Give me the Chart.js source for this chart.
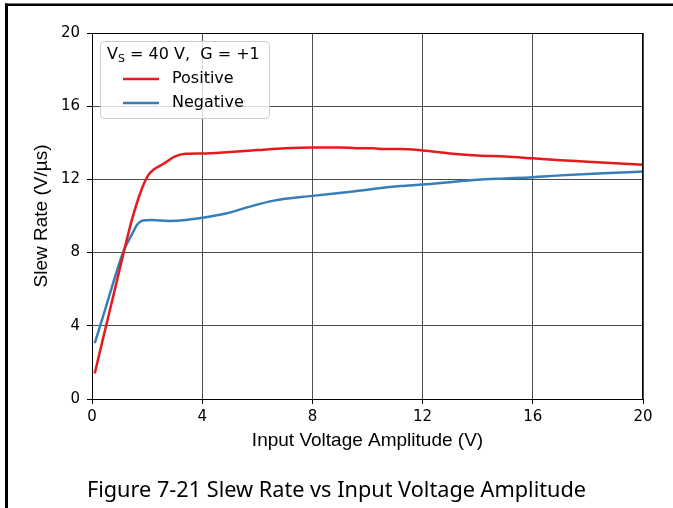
<!DOCTYPE html>
<html>
<head>
<meta charset="utf-8">
<script src="https://cdn.jsdelivr.net/npm/chart.js@4.4.0/dist/chart.umd.min.js"></script>
<style>
  html, body { margin: 0; padding: 0; background: #fff; }
  #wrap { position: relative; width: 673px; height: 508px; }
  #caption {
    position: absolute; left: 0; top: 474px; width: 673px;
    text-align: center; font-family: "Noto Sans"; font-size: 21.7px; color: #000;
  }
</style>
</head>
<body>
<div id="wrap">
  <canvas id="slewChart" width="673" height="508"></canvas>
  <div id="caption">Figure 7-21 Slew Rate vs Input Voltage Amplitude</div>
</div>
<script>
// input amplitude (V) and slew rate (V/us)
const posVin = [0.1, 0.4, 0.8, 1.1, 1.45, 1.8, 2.05, 2.25, 2.65, 3.0, 3.4, 4, 5, 6, 7, 8, 9, 9.6, 10.2, 10.6, 11.2, 12, 13, 14, 15, 16, 17, 18, 19, 20];
const posSR  = [1.4, 3.3, 5.8, 7.7, 9.8, 11.45, 12.25, 12.55, 12.9, 13.25, 13.4, 13.42, 13.5, 13.6, 13.7, 13.75, 13.75, 13.7, 13.7, 13.66, 13.66, 13.58, 13.42, 13.3, 13.25, 13.15, 13.05, 12.97, 12.88, 12.8];

const negVin = [0.1, 0.5, 0.8, 1.15, 1.45, 1.65, 1.85, 2.15, 2.8, 3.4, 4, 4.9, 5.7, 6.6, 8, 9.4, 11.2, 12, 13, 14, 15, 16, 17, 18, 19, 20];
const negSR  = [3.05, 5.0, 6.5, 8.1, 9.0, 9.55, 9.75, 9.78, 9.73, 9.78, 9.9, 10.15, 10.5, 10.84, 11.1, 11.33, 11.64, 11.72, 11.85, 11.98, 12.05, 12.12, 12.22, 12.3, 12.36, 12.43];

const xTicks = [0, 4, 8, 12, 16, 20];
const yTicks = [0, 4, 8, 12, 16, 20];
const legendTitle = ['V', 'S', ' = 40 V,  G = +1'];

function toPoints(xs, ys) {
    return xs.map((x, i) => ({ x: x, y: ys[i] }));
}

// frame, plot border and the boxed legend
const decorPlugin = {
    id: 'decor',
    afterDatasetsDraw(chart) {
        const ctx = chart.ctx;
        const a = chart.chartArea;
        ctx.save();
        ctx.strokeStyle = '#000';
        ctx.lineWidth = 1;
        ctx.strokeRect(Math.round(a.left) + 0.5, Math.round(a.top) + 0.5,
            Math.round(a.right - a.left) - 1, Math.round(a.bottom - a.top));

        // legend box
        ctx.beginPath();
        ctx.roundRect(100.5, 41.5, 169, 77, 4);
        ctx.fillStyle = 'rgba(255,255,255,0.8)';
        ctx.fill();
        ctx.strokeStyle = '#cccccc';
        ctx.stroke();

        ctx.fillStyle = '#000';
        ctx.textBaseline = 'middle';
        ctx.font = '16px "DejaVu Sans"';
        let tx = 107;
        ctx.fillText(legendTitle[0], tx, 55);
        tx += ctx.measureText(legendTitle[0]).width;
        ctx.font = '11px "DejaVu Sans"';
        ctx.fillText(legendTitle[1], tx, 59);
        tx += ctx.measureText(legendTitle[1]).width;
        ctx.font = '16px "DejaVu Sans"';
        ctx.fillText(legendTitle[2], tx, 55);

        chart.data.datasets.forEach((ds, i) => {
            const y = 79 + i * 24;
            ctx.strokeStyle = ds.borderColor;
            ctx.lineWidth = 2.5;
            ctx.beginPath();
            ctx.moveTo(123, y);
            ctx.lineTo(159, y);
            ctx.stroke();
            ctx.fillStyle = '#000';
            ctx.fillText(ds.label, 172, y);
        });

        // outer figure frame
        ctx.fillStyle = '#000';
        ctx.fillRect(5, 3.5, 668, 2.5);
        ctx.fillRect(5, 3.5, 3, 504.5);
        ctx.restore();
    }
};

const ctx = document.getElementById('slewChart').getContext('2d');
const slewChart = new Chart(ctx, {
    type: 'line',
    data: {
        datasets: [
            {
                label: 'Positive',
                data: toPoints(posVin, posSR),
                borderColor: '#e41a1c',
                borderWidth: 2.5,
                pointRadius: 0,
                cubicInterpolationMode: 'monotone'
            },
            {
                label: 'Negative',
                data: toPoints(negVin, negSR),
                borderColor: '#377eb8',
                borderWidth: 2.5,
                pointRadius: 0,
                cubicInterpolationMode: 'monotone'
            }
        ]
    },
    options: {
        responsive: false,
        animation: false,
        layout: { padding: { top: 33, right: 30, bottom: 0, left: 0 } },
        plugins: {
            legend: { display: false },
            tooltip: { enabled: false }
        },
        scales: {
            x: {
                type: 'linear',
                min: 0,
                max: 20,
                afterBuildTicks: s => { s.ticks = xTicks.map(v => ({ value: v })); },
                afterFit: s => { s.height = 109; },
                ticks: {
                    color: '#000',
                    padding: 4,
                    maxRotation: 0,
                    font: { family: 'DejaVu Sans', size: 15 }
                },
                grid: { color: '#4d4d4d', tickColor: '#000', tickLength: 5, lineWidth: 1 },
                border: { color: '#000' },
                title: {
                    display: true,
                    text: 'Input Voltage Amplitude (V)',
                    color: '#000',
                    font: { family: 'Liberation Sans', size: 19 },
                    padding: { top: 0, bottom: 55.6 }
                }
            },
            y: {
                type: 'linear',
                min: 0,
                max: 20,
                afterBuildTicks: s => { s.ticks = yTicks.map(v => ({ value: v })); },
                afterFit: s => { s.width = 92; },
                ticks: {
                    color: '#000',
                    padding: 7,
                    font: { family: 'DejaVu Sans', size: 15 }
                },
                grid: { color: '#4d4d4d', tickColor: '#000', tickLength: 5, lineWidth: 1 },
                border: { color: '#000' },
                title: {
                    display: true,
                    text: 'Slew Rate (V/µs)',
                    color: '#000',
                    font: { family: 'Liberation Sans', size: 19 },
                    padding: { top: 30.6, bottom: 0 }
                }
            }
        }
    },
    plugins: [decorPlugin]
});
</script>
</body>
</html>
